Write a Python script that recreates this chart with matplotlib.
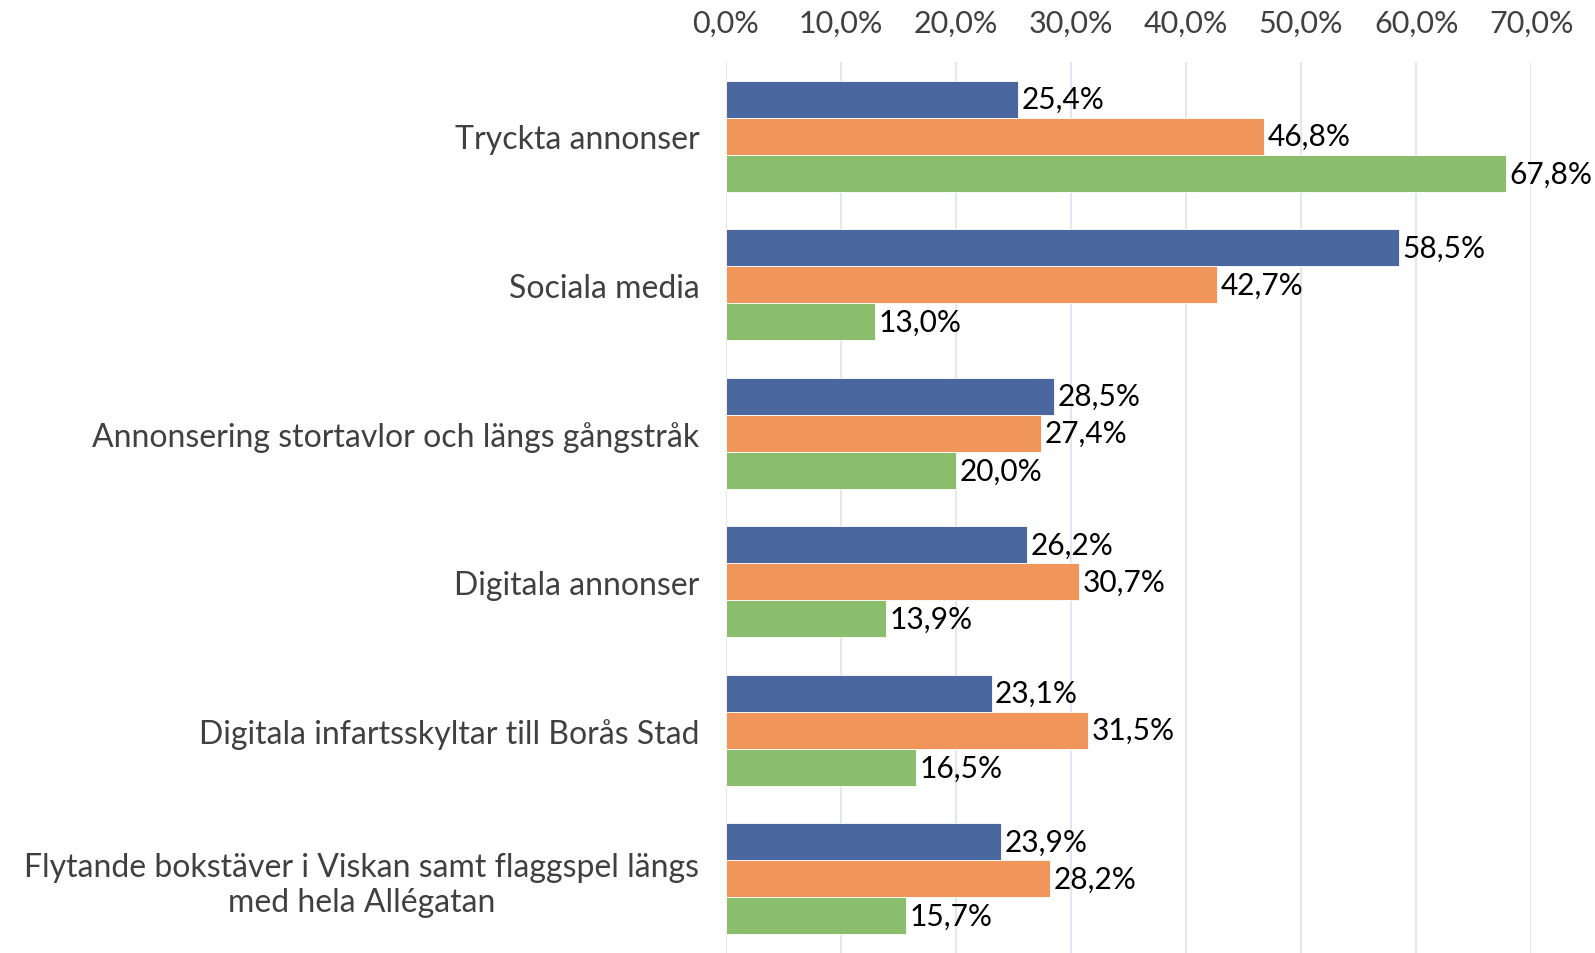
import matplotlib.pyplot as plt
import numpy as np

categories = [
    'Tryckta annonser',
    'Sociala media',
    'Annonsering stortavlor och längs gångstråk',
    'Digitala annonser',
    'Digitala infartsskyltar till Borås Stad',
    'Flytande bokstäver i Viskan samt flaggspel längs\nmed hela Allégatan',
]
series_blue = [25.4, 58.5, 28.5, 26.2, 23.1, 23.9]
series_orange = [46.8, 42.7, 27.4, 30.7, 31.5, 28.2]
series_green = [67.8, 13.0, 20.0, 13.9, 16.5, 15.7]
ticks = [0, 10, 20, 30, 40, 50, 60, 70]

colors = ['#4A67A0', '#F0965A', '#8BBE6C']
plt.rcParams['font.family'] = ['Lato', 'DejaVu Sans']

fig = plt.figure(figsize=(15.95, 9.54), dpi=100)
ax = fig.add_axes([0.455, 0.0, 0.505, 0.934])

y = np.arange(len(categories))
h = 0.25
for i, vals in enumerate([series_blue, series_orange, series_green]):
    pos = y + (i - 1) * h
    ax.barh(pos, vals, height=h, color=colors[i], edgecolor='white', linewidth=0.6, zorder=2)
    for p, v in zip(pos, vals):
        ax.annotate('{:.1f}%'.format(v).replace('.', ','), (v, p), xytext=(2.5, 0),
                    textcoords='offset points', va='center', ha='left',
                    fontsize=21.5, color='black', annotation_clip=False)

ax.set_xlim(0, 70)
ax.set_ylim(len(categories) - 0.5, -0.5)
ax.set_yticks(y)
ax.set_yticklabels(categories, fontsize=23, color='#404040', ha='right', multialignment='center')
ax.tick_params(axis='y', length=0, pad=19)
ax.xaxis.tick_top()
ax.set_xticks(ticks)
ax.set_xticklabels(['{:.1f}%'.format(t).replace('.', ',') for t in ticks], fontsize=22, color='#404040')
ax.tick_params(axis='x', length=0, pad=18)
ax.grid(axis='x', color='#DDE1EA', linewidth=1.2, zorder=0)
for s in ax.spines.values():
    s.set_visible(False)

fig.savefig('out.png', dpi=100)
